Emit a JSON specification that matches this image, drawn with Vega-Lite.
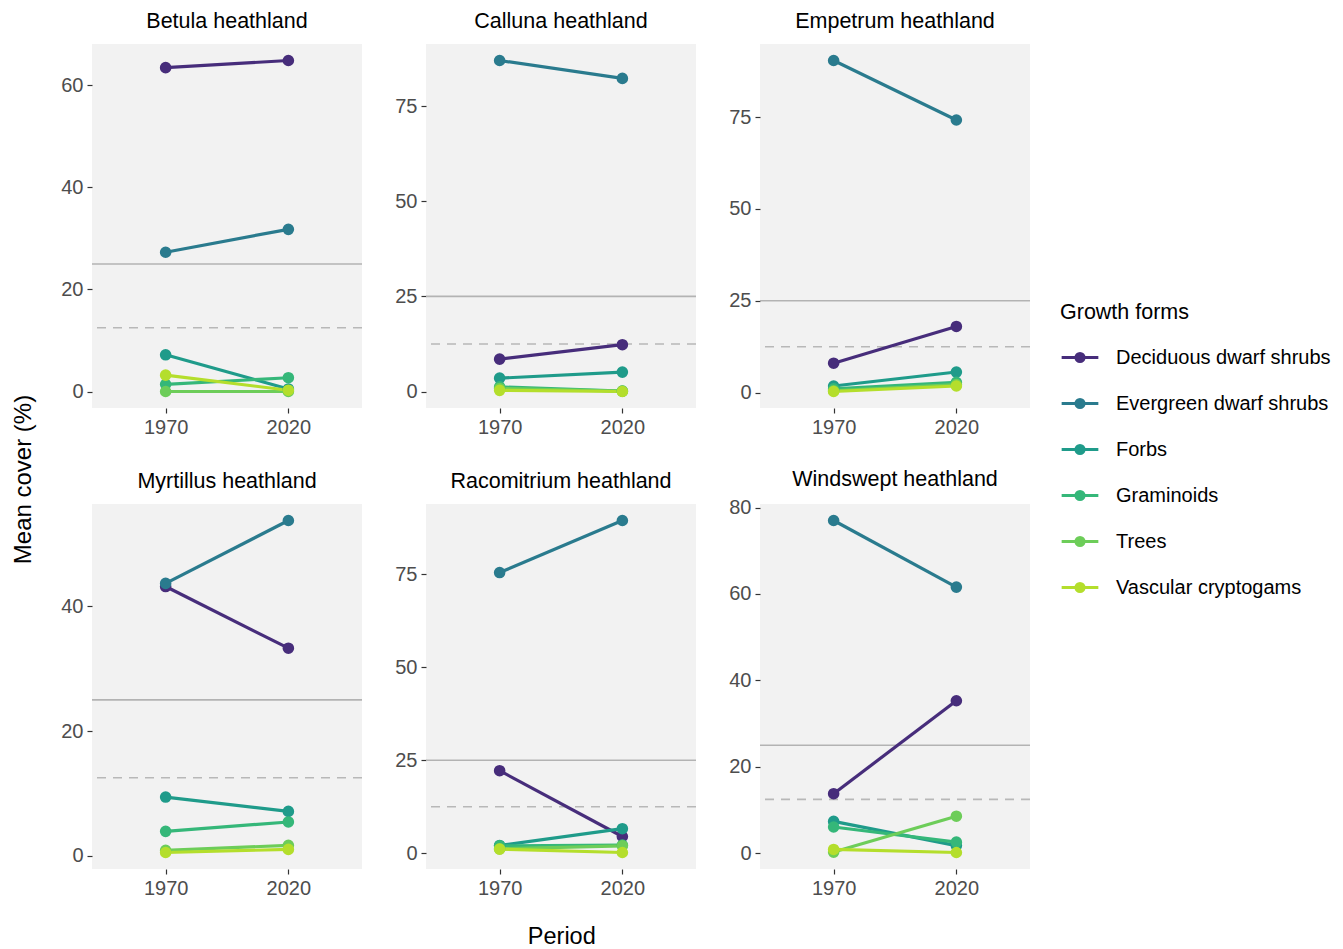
{
  "$schema": "https://vega.github.io/schema/vega-lite/v6.json",
  "padding": {"left": 11, "top": 10, "right": 5, "bottom": 2},
  "background": "white",
  "data": {"values": [
    {"habitat": "Betula heathland", "period": "1970", "form": "Deciduous dwarf shrubs", "cover": 63.5},
    {"habitat": "Betula heathland", "period": "2020", "form": "Deciduous dwarf shrubs", "cover": 64.9},
    {"habitat": "Betula heathland", "period": "1970", "form": "Evergreen dwarf shrubs", "cover": 27.3},
    {"habitat": "Betula heathland", "period": "2020", "form": "Evergreen dwarf shrubs", "cover": 31.8},
    {"habitat": "Betula heathland", "period": "1970", "form": "Forbs", "cover": 7.2},
    {"habitat": "Betula heathland", "period": "2020", "form": "Forbs", "cover": 0.5},
    {"habitat": "Betula heathland", "period": "1970", "form": "Graminoids", "cover": 1.4},
    {"habitat": "Betula heathland", "period": "2020", "form": "Graminoids", "cover": 2.7},
    {"habitat": "Betula heathland", "period": "1970", "form": "Trees", "cover": 0.0},
    {"habitat": "Betula heathland", "period": "2020", "form": "Trees", "cover": 0.0},
    {"habitat": "Betula heathland", "period": "1970", "form": "Vascular cryptogams", "cover": 3.2},
    {"habitat": "Betula heathland", "period": "2020", "form": "Vascular cryptogams", "cover": 0.25},
    {"habitat": "Calluna heathland", "period": "1970", "form": "Deciduous dwarf shrubs", "cover": 8.5},
    {"habitat": "Calluna heathland", "period": "2020", "form": "Deciduous dwarf shrubs", "cover": 12.3},
    {"habitat": "Calluna heathland", "period": "1970", "form": "Evergreen dwarf shrubs", "cover": 87.0},
    {"habitat": "Calluna heathland", "period": "2020", "form": "Evergreen dwarf shrubs", "cover": 82.3},
    {"habitat": "Calluna heathland", "period": "1970", "form": "Forbs", "cover": 3.5},
    {"habitat": "Calluna heathland", "period": "2020", "form": "Forbs", "cover": 5.1},
    {"habitat": "Calluna heathland", "period": "1970", "form": "Graminoids", "cover": 1.2},
    {"habitat": "Calluna heathland", "period": "2020", "form": "Graminoids", "cover": 0.1},
    {"habitat": "Calluna heathland", "period": "1970", "form": "Trees", "cover": 0.8},
    {"habitat": "Calluna heathland", "period": "2020", "form": "Trees", "cover": 0.1},
    {"habitat": "Calluna heathland", "period": "1970", "form": "Vascular cryptogams", "cover": 0.3},
    {"habitat": "Calluna heathland", "period": "2020", "form": "Vascular cryptogams", "cover": 0.0},
    {"habitat": "Empetrum heathland", "period": "1970", "form": "Deciduous dwarf shrubs", "cover": 8.0},
    {"habitat": "Empetrum heathland", "period": "2020", "form": "Deciduous dwarf shrubs", "cover": 18.0},
    {"habitat": "Empetrum heathland", "period": "1970", "form": "Evergreen dwarf shrubs", "cover": 90.4},
    {"habitat": "Empetrum heathland", "period": "2020", "form": "Evergreen dwarf shrubs", "cover": 74.2},
    {"habitat": "Empetrum heathland", "period": "1970", "form": "Forbs", "cover": 1.8},
    {"habitat": "Empetrum heathland", "period": "2020", "form": "Forbs", "cover": 5.6},
    {"habitat": "Empetrum heathland", "period": "1970", "form": "Graminoids", "cover": 1.0},
    {"habitat": "Empetrum heathland", "period": "2020", "form": "Graminoids", "cover": 2.8},
    {"habitat": "Empetrum heathland", "period": "1970", "form": "Trees", "cover": 0.5},
    {"habitat": "Empetrum heathland", "period": "2020", "form": "Trees", "cover": 2.2},
    {"habitat": "Empetrum heathland", "period": "1970", "form": "Vascular cryptogams", "cover": 0.3},
    {"habitat": "Empetrum heathland", "period": "2020", "form": "Vascular cryptogams", "cover": 1.8},
    {"habitat": "Myrtillus heathland", "period": "1970", "form": "Deciduous dwarf shrubs", "cover": 43.2},
    {"habitat": "Myrtillus heathland", "period": "2020", "form": "Deciduous dwarf shrubs", "cover": 33.3},
    {"habitat": "Myrtillus heathland", "period": "1970", "form": "Evergreen dwarf shrubs", "cover": 43.7},
    {"habitat": "Myrtillus heathland", "period": "2020", "form": "Evergreen dwarf shrubs", "cover": 53.8},
    {"habitat": "Myrtillus heathland", "period": "1970", "form": "Forbs", "cover": 9.4},
    {"habitat": "Myrtillus heathland", "period": "2020", "form": "Forbs", "cover": 7.1},
    {"habitat": "Myrtillus heathland", "period": "1970", "form": "Graminoids", "cover": 3.9},
    {"habitat": "Myrtillus heathland", "period": "2020", "form": "Graminoids", "cover": 5.4},
    {"habitat": "Myrtillus heathland", "period": "1970", "form": "Trees", "cover": 0.85},
    {"habitat": "Myrtillus heathland", "period": "2020", "form": "Trees", "cover": 1.65},
    {"habitat": "Myrtillus heathland", "period": "1970", "form": "Vascular cryptogams", "cover": 0.5},
    {"habitat": "Myrtillus heathland", "period": "2020", "form": "Vascular cryptogams", "cover": 1.0},
    {"habitat": "Racomitrium heathland", "period": "1970", "form": "Deciduous dwarf shrubs", "cover": 22.2},
    {"habitat": "Racomitrium heathland", "period": "2020", "form": "Deciduous dwarf shrubs", "cover": 4.5},
    {"habitat": "Racomitrium heathland", "period": "1970", "form": "Evergreen dwarf shrubs", "cover": 75.5},
    {"habitat": "Racomitrium heathland", "period": "2020", "form": "Evergreen dwarf shrubs", "cover": 89.5},
    {"habitat": "Racomitrium heathland", "period": "1970", "form": "Forbs", "cover": 2.1},
    {"habitat": "Racomitrium heathland", "period": "2020", "form": "Forbs", "cover": 6.6},
    {"habitat": "Racomitrium heathland", "period": "1970", "form": "Graminoids", "cover": 2.0},
    {"habitat": "Racomitrium heathland", "period": "2020", "form": "Graminoids", "cover": 2.2},
    {"habitat": "Racomitrium heathland", "period": "1970", "form": "Trees", "cover": 1.2},
    {"habitat": "Racomitrium heathland", "period": "2020", "form": "Trees", "cover": 2.0},
    {"habitat": "Racomitrium heathland", "period": "1970", "form": "Vascular cryptogams", "cover": 1.1},
    {"habitat": "Racomitrium heathland", "period": "2020", "form": "Vascular cryptogams", "cover": 0.2},
    {"habitat": "Windswept heathland", "period": "1970", "form": "Deciduous dwarf shrubs", "cover": 13.8},
    {"habitat": "Windswept heathland", "period": "2020", "form": "Deciduous dwarf shrubs", "cover": 35.3},
    {"habitat": "Windswept heathland", "period": "1970", "form": "Evergreen dwarf shrubs", "cover": 77.0},
    {"habitat": "Windswept heathland", "period": "2020", "form": "Evergreen dwarf shrubs", "cover": 61.6},
    {"habitat": "Windswept heathland", "period": "1970", "form": "Forbs", "cover": 7.4},
    {"habitat": "Windswept heathland", "period": "2020", "form": "Forbs", "cover": 1.8},
    {"habitat": "Windswept heathland", "period": "1970", "form": "Graminoids", "cover": 6.1},
    {"habitat": "Windswept heathland", "period": "2020", "form": "Graminoids", "cover": 2.6},
    {"habitat": "Windswept heathland", "period": "1970", "form": "Trees", "cover": 0.3},
    {"habitat": "Windswept heathland", "period": "2020", "form": "Trees", "cover": 8.6},
    {"habitat": "Windswept heathland", "period": "1970", "form": "Vascular cryptogams", "cover": 0.9},
    {"habitat": "Windswept heathland", "period": "2020", "form": "Vascular cryptogams", "cover": 0.2}
  ]},
  "title": {"text": "Mean cover (%)", "orient": "left", "anchor": "middle", "fontSize": 24, "fontWeight": "normal", "color": "black", "offset": 25},
  "vconcat": [{
    "title": {"text": "Period", "orient": "bottom", "anchor": "middle", "fontSize": 23.5, "fontWeight": "normal", "color": "black", "offset": 27, "dx": 16},
    "columns": 3,
    "spacing": {"row": 32, "column": 31},
    "concat": [
      {"title": {"text": "Betula heathland", "offset": 12}, "width": 270, "height": 364,
       "transform": [{"filter": "datum.habitat == 'Betula heathland'"}],
       "layer": [
         {"transform": [{"filter": "datum.period == '1970' && datum.form == 'Trees'"}], "mark": {"type": "rule", "color": "#B3B3B3", "strokeWidth": 1.6}, "encoding": {"y": {"datum": 25, "type": "quantitative", "title": null}}},
         {"transform": [{"filter": "datum.period == '1970' && datum.form == 'Trees'"}], "mark": {"type": "rule", "color": "#B8B8B8", "strokeWidth": 1.6, "strokeDash": [9, 7]}, "encoding": {"y": {"datum": 12.5, "type": "quantitative", "title": null}}},
         {"mark": {"type": "line", "strokeWidth": 3.2}, "encoding": {
           "x": {"field": "period", "type": "ordinal", "title": null, "scale": {"type": "point", "padding": 0.6}, "axis": {"labelAngle": 0}},
           "y": {"field": "cover", "type": "quantitative", "title": null, "scale": {"zero": false, "nice": false, "padding": 16.5}, "axis": {"values": [0, 20, 40, 60]}},
           "color": {"field": "form", "type": "nominal", "legend": {"title": "Growth forms"}}}},
         {"mark": {"type": "point", "filled": true, "size": 135, "opacity": 1}, "encoding": {
           "x": {"field": "period", "type": "ordinal", "title": null},
           "y": {"field": "cover", "type": "quantitative", "title": null},
           "color": {"field": "form", "type": "nominal", "legend": {"title": "Growth forms"}}}}
       ]},
      {"title": {"text": "Calluna heathland", "offset": 12}, "width": 270, "height": 364,
       "transform": [{"filter": "datum.habitat == 'Calluna heathland'"}],
       "layer": [
         {"transform": [{"filter": "datum.period == '1970' && datum.form == 'Trees'"}], "mark": {"type": "rule", "color": "#B3B3B3", "strokeWidth": 1.6}, "encoding": {"y": {"datum": 25, "type": "quantitative", "title": null}}},
         {"transform": [{"filter": "datum.period == '1970' && datum.form == 'Trees'"}], "mark": {"type": "rule", "color": "#B8B8B8", "strokeWidth": 1.6, "strokeDash": [9, 7]}, "encoding": {"y": {"datum": 12.5, "type": "quantitative", "title": null}}},
         {"mark": {"type": "line", "strokeWidth": 3.2}, "encoding": {
           "x": {"field": "period", "type": "ordinal", "title": null, "scale": {"type": "point", "padding": 0.6}, "axis": {"labelAngle": 0}},
           "y": {"field": "cover", "type": "quantitative", "title": null, "scale": {"zero": false, "nice": false, "padding": 16.5}, "axis": {"values": [0, 25, 50, 75]}},
           "color": {"field": "form", "type": "nominal", "legend": {"title": "Growth forms"}}}},
         {"mark": {"type": "point", "filled": true, "size": 135, "opacity": 1}, "encoding": {
           "x": {"field": "period", "type": "ordinal", "title": null},
           "y": {"field": "cover", "type": "quantitative", "title": null},
           "color": {"field": "form", "type": "nominal", "legend": {"title": "Growth forms"}}}}
       ]},
      {"title": {"text": "Empetrum heathland", "offset": 12}, "width": 270, "height": 364,
       "transform": [{"filter": "datum.habitat == 'Empetrum heathland'"}],
       "layer": [
         {"transform": [{"filter": "datum.period == '1970' && datum.form == 'Trees'"}], "mark": {"type": "rule", "color": "#B3B3B3", "strokeWidth": 1.6}, "encoding": {"y": {"datum": 25, "type": "quantitative", "title": null}}},
         {"transform": [{"filter": "datum.period == '1970' && datum.form == 'Trees'"}], "mark": {"type": "rule", "color": "#B8B8B8", "strokeWidth": 1.6, "strokeDash": [9, 7]}, "encoding": {"y": {"datum": 12.5, "type": "quantitative", "title": null}}},
         {"mark": {"type": "line", "strokeWidth": 3.2}, "encoding": {
           "x": {"field": "period", "type": "ordinal", "title": null, "scale": {"type": "point", "padding": 0.6}, "axis": {"labelAngle": 0}},
           "y": {"field": "cover", "type": "quantitative", "title": null, "scale": {"zero": false, "nice": false, "padding": 16.5}, "axis": {"values": [0, 25, 50, 75]}},
           "color": {"field": "form", "type": "nominal", "legend": {"title": "Growth forms"}}}},
         {"mark": {"type": "point", "filled": true, "size": 135, "opacity": 1}, "encoding": {
           "x": {"field": "period", "type": "ordinal", "title": null},
           "y": {"field": "cover", "type": "quantitative", "title": null},
           "color": {"field": "form", "type": "nominal", "legend": {"title": "Growth forms"}}}}
       ]},
      {"title": {"text": "Myrtillus heathland", "offset": 12}, "width": 270, "height": 365,
       "transform": [{"filter": "datum.habitat == 'Myrtillus heathland'"}],
       "layer": [
         {"transform": [{"filter": "datum.period == '1970' && datum.form == 'Trees'"}], "mark": {"type": "rule", "color": "#B3B3B3", "strokeWidth": 1.6}, "encoding": {"y": {"datum": 25, "type": "quantitative", "title": null}}},
         {"transform": [{"filter": "datum.period == '1970' && datum.form == 'Trees'"}], "mark": {"type": "rule", "color": "#B8B8B8", "strokeWidth": 1.6, "strokeDash": [9, 7]}, "encoding": {"y": {"datum": 12.5, "type": "quantitative", "title": null}}},
         {"mark": {"type": "line", "strokeWidth": 3.2}, "encoding": {
           "x": {"field": "period", "type": "ordinal", "title": null, "scale": {"type": "point", "padding": 0.6}, "axis": {"labelAngle": 0}},
           "y": {"field": "cover", "type": "quantitative", "title": null, "scale": {"zero": false, "nice": false, "padding": 16.5}, "axis": {"values": [0, 20, 40]}},
           "color": {"field": "form", "type": "nominal", "legend": {"title": "Growth forms"}}}},
         {"mark": {"type": "point", "filled": true, "size": 135, "opacity": 1}, "encoding": {
           "x": {"field": "period", "type": "ordinal", "title": null},
           "y": {"field": "cover", "type": "quantitative", "title": null},
           "color": {"field": "form", "type": "nominal", "legend": {"title": "Growth forms"}}}}
       ]},
      {"title": {"text": "Racomitrium heathland", "offset": 12}, "width": 270, "height": 365,
       "transform": [{"filter": "datum.habitat == 'Racomitrium heathland'"}],
       "layer": [
         {"transform": [{"filter": "datum.period == '1970' && datum.form == 'Trees'"}], "mark": {"type": "rule", "color": "#B3B3B3", "strokeWidth": 1.6}, "encoding": {"y": {"datum": 25, "type": "quantitative", "title": null}}},
         {"transform": [{"filter": "datum.period == '1970' && datum.form == 'Trees'"}], "mark": {"type": "rule", "color": "#B8B8B8", "strokeWidth": 1.6, "strokeDash": [9, 7]}, "encoding": {"y": {"datum": 12.5, "type": "quantitative", "title": null}}},
         {"mark": {"type": "line", "strokeWidth": 3.2}, "encoding": {
           "x": {"field": "period", "type": "ordinal", "title": null, "scale": {"type": "point", "padding": 0.6}, "axis": {"labelAngle": 0}},
           "y": {"field": "cover", "type": "quantitative", "title": null, "scale": {"zero": false, "nice": false, "padding": 16.5}, "axis": {"values": [0, 25, 50, 75]}},
           "color": {"field": "form", "type": "nominal", "legend": {"title": "Growth forms"}}}},
         {"mark": {"type": "point", "filled": true, "size": 135, "opacity": 1}, "encoding": {
           "x": {"field": "period", "type": "ordinal", "title": null},
           "y": {"field": "cover", "type": "quantitative", "title": null},
           "color": {"field": "form", "type": "nominal", "legend": {"title": "Growth forms"}}}}
       ]},
      {"title": {"text": "Windswept heathland", "offset": 7}, "width": 270, "height": 365,
       "transform": [{"filter": "datum.habitat == 'Windswept heathland'"}],
       "layer": [
         {"transform": [{"filter": "datum.period == '1970' && datum.form == 'Trees'"}], "mark": {"type": "rule", "color": "#B3B3B3", "strokeWidth": 1.6}, "encoding": {"y": {"datum": 25, "type": "quantitative", "title": null}}},
         {"transform": [{"filter": "datum.period == '1970' && datum.form == 'Trees'"}], "mark": {"type": "rule", "color": "#B8B8B8", "strokeWidth": 1.6, "strokeDash": [9, 7]}, "encoding": {"y": {"datum": 12.5, "type": "quantitative", "title": null}}},
         {"mark": {"type": "line", "strokeWidth": 3.2}, "encoding": {
           "x": {"field": "period", "type": "ordinal", "title": null, "scale": {"type": "point", "padding": 0.6}, "axis": {"labelAngle": 0}},
           "y": {"field": "cover", "type": "quantitative", "title": null, "scale": {"zero": false, "nice": false, "padding": 16.5}, "axis": {"values": [0, 20, 40, 60, 80]}},
           "color": {"field": "form", "type": "nominal", "legend": {"title": "Growth forms"}}}},
         {"mark": {"type": "point", "filled": true, "size": 135, "opacity": 1}, "encoding": {
           "x": {"field": "period", "type": "ordinal", "title": null},
           "y": {"field": "cover", "type": "quantitative", "title": null},
           "color": {"field": "form", "type": "nominal", "legend": {"title": "Growth forms"}}}}
       ]}
    ]
  }],
  "config": {
    "font": "Liberation Sans, Arial, sans-serif",
    "view": {"fill": "#F2F2F2", "stroke": null},
    "axis": {"domain": false, "grid": false, "tickColor": "#333333", "tickSize": 5, "tickWidth": 1.2, "labelColor": "#4D4D4D", "labelFontSize": 20, "labelPadding": 4, "labelFont": "Liberation Sans, Arial, sans-serif"},
    "title": {"fontSize": 21.5, "fontWeight": "normal", "color": "black", "offset": 10, "font": "Liberation Sans, Arial, sans-serif"},
    "range": {"category": ["#472D7B", "#2A7B8E", "#1F9B8A", "#35B779", "#6DCD59", "#B4DE2C"]},
    "legend": {
      "orient": "none", "legendX": 968, "legendY": 258,
      "titleFontSize": 21.5, "titleFontWeight": "normal", "titleColor": "black", "titlePadding": 14, "titleFont": "Liberation Sans, Arial, sans-serif",
      "labelFontSize": 20, "labelColor": "black", "labelOffset": 16, "labelLimit": 400, "labelFont": "Liberation Sans, Arial, sans-serif",
      "symbolType": "M -1 0 L 1 0 M -0.22 0 A 0.22 0.22 0 1 1 0.22 0 A 0.22 0.22 0 1 1 -0.22 0",
      "symbolSize": 1347, "symbolStrokeWidth": 3, "rowPadding": 15
    }
  }
}
